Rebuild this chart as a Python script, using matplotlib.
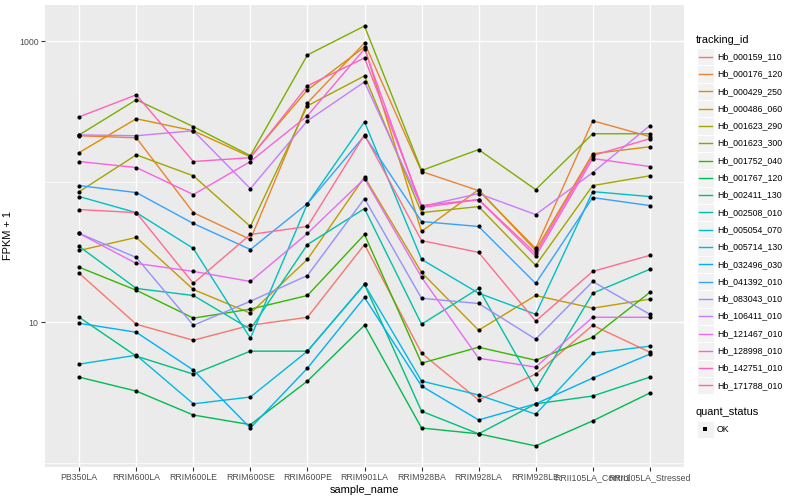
import matplotlib
matplotlib.use('Agg')
import matplotlib.pyplot as plt
from matplotlib.ticker import FixedLocator, NullFormatter
from matplotlib.patches import Rectangle

plt.rcParams['font.family'] = ['Liberation Sans', 'DejaVu Sans']

# --- data (FPKM + 1) ---
samples = ["PB350LA", "RRIM600LA", "RRIM600LE", "RRIM600SE", "RRIM600PE", "RRIM901LA",
           "RRIM928BA", "RRIM928LA", "RRIM928LE", "RRII105LA_Control", "RRII105LA_Stressed"]

tracking_ids = ["Hb_000159_110", "Hb_000176_120", "Hb_000429_250", "Hb_000486_060",
                "Hb_001623_290", "Hb_001623_300", "Hb_001752_040", "Hb_001767_120",
                "Hb_002411_130", "Hb_002508_010", "Hb_005054_070", "Hb_005714_130",
                "Hb_032496_030", "Hb_041392_010", "Hb_083043_010", "Hb_106411_010",
                "Hb_121467_010", "Hb_128998_010", "Hb_142751_010", "Hb_171788_010"]

# ggplot hue palette, 20 levels
colors = ["#F8766D", "#EA8331", "#D89000", "#C09B00", "#A3A500", "#7CAE00", "#39B600",
          "#00BB4E", "#00BF7D", "#00C1A3", "#00BFC4", "#00BAE0", "#00B0F6", "#35A2FF",
          "#9590FF", "#C77CFF", "#E76BF3", "#FA62DB", "#FF62BC", "#FF6C91"]

hb_000159_110 = [22.3, 9.68, 7.45, 9.52, 10.85, 35.7, 6.03, 2.80, 4.28, 9.52, 6.13]
hb_000176_120 = [212, 205, 60.2, 38.8, 363, 968, 118, 86.3, 33.5, 271, 209]
hb_000429_250 = [161, 280, 230, 150, 449, 907, 44.2, 87.8, 32.4, 158, 177]
hb_000486_060 = [32.4, 40.1, 17.1, 11.6, 28.0, 108, 22.6, 8.78, 15.5, 12.6, 14.6]
hb_001623_290 = [84.9, 155, 110, 48.0, 346, 565, 60.2, 66.5, 25.4, 93.7, 110]
hb_001623_300 = [215, 382, 246, 153, 796, 1278, 120, 169, 87.8, 219, 219]
hb_001752_040 = [24.6, 16.9, 10.7, 12.4, 15.5, 42.1, 5.12, 6.65, 5.37, 7.83, 16.3]
hb_001767_120 = [4.07, 3.24, 2.19, 1.87, 3.82, 9.52, 1.77, 1.61, 1.32, 1.99, 3.14]
hb_002411_130 = [10.85, 5.74, 4.28, 6.23, 6.23, 18.6, 2.33, 1.61, 2.63, 2.99, 4.07]
hb_002508_010 = [34.6, 17.4, 15.5, 8.92, 35.7, 64.3, 9.68, 17.4, 3.34, 16.1, 23.8]
hb_005054_070 = [78.3, 60.2, 33.5, 7.70, 69.8, 266, 28.0, 16.1, 11.4, 84.9, 78.3]
hb_005714_130 = [5.04, 5.83, 2.63, 2.94, 6.23, 18.6, 3.82, 3.04, 2.22, 6.03, 6.76]
hb_032496_030 = [9.84, 8.49, 4.57, 1.77, 4.72, 15.0, 3.52, 2.02, 2.63, 4.01, 5.93]
hb_041392_010 = [93.7, 83.6, 50.4, 32.9, 69.8, 212, 52.0, 48.0, 18.9, 77.0, 67.6]
hb_083043_010 = [42.8, 28.9, 9.52, 14.1, 21.5, 75.8, 14.8, 13.6, 7.58, 19.5, 11.4]
hb_106411_010 = [215, 212, 230, 89.2, 271, 512, 66.5, 82.2, 58.3, 116, 250]
hb_121467_010 = [42.8, 26.2, 23.0, 19.5, 42.8, 105, 20.9, 5.55, 4.80, 10.85, 10.85]
hb_128998_010 = [139, 126, 80.9, 139, 294, 878, 65.4, 74.5, 29.4, 146, 128]
hb_142751_010 = [289, 414, 139, 148, 480, 758, 67.6, 74.5, 30.9, 153, 202]
hb_171788_010 = [63.3, 60.2, 18.9, 42.1, 48.0, 215, 38.1, 31.4, 10.2, 23.0, 29.9]

series = [hb_000159_110, hb_000176_120, hb_000429_250, hb_000486_060, hb_001623_290,
          hb_001623_300, hb_001752_040, hb_001767_120, hb_002411_130, hb_002508_010,
          hb_005054_070, hb_005714_130, hb_032496_030, hb_041392_010, hb_083043_010,
          hb_106411_010, hb_121467_010, hb_128998_010, hb_142751_010, hb_171788_010]

# ggplot-ish sizes at 72 dpi -> matplotlib points at 100 dpi
K = 72 / 100
fig = plt.figure(figsize=(8, 5), dpi=100)
ax = fig.add_axes([45 / 800, 33 / 500, 639 / 800, 462 / 500])
ax.set_facecolor('#EBEBEB')
for s in ax.spines.values():
    s.set_visible(False)

x = list(range(len(samples)))
for vals, c in zip(series, colors):
    ax.plot(x, vals, color=c, lw=1.0, zorder=3)
for vals in series:
    ax.plot(x, vals, 'o', color='black', ms=3.0, mew=0, zorder=4)

ax.set_yscale('log')
ax.set_ylim(0.935, 1803)
ax.set_xlim(-0.6, len(samples) - 0.4)

ax.yaxis.set_major_locator(FixedLocator([10, 1000]))
ax.set_yticklabels(["10", "1000"])
ax.yaxis.set_minor_locator(FixedLocator([1, 100]))
ax.yaxis.set_minor_formatter(NullFormatter())
ax.set_xticks(x)
ax.set_xticklabels(samples)

ax.grid(True, which='major', color='white', lw=1.0, zorder=0)
ax.grid(True, which='minor', axis='y', color='white', lw=0.5, zorder=0)
ax.set_axisbelow(True)
ax.tick_params(which='major', length=2.75 * K * 1.3, width=0.8, color='#333333',
               labelsize=8.8 * K, labelcolor='#4D4D4D', pad=2)
ax.tick_params(which='minor', length=0)

ax.set_xlabel("sample_name", fontsize=11 * K, labelpad=2)
ax.set_ylabel("FPKM + 1", fontsize=11 * K, labelpad=4)

# --- legends, drawn in pixel coords ---
lg = fig.add_axes([0, 0, 1, 1])
lg.set_xlim(0, 800)
lg.set_ylim(500, 0)
lg.set_axis_off()
lg.patch.set_alpha(0)

lg.text(696, 40, "tracking_id", fontsize=11 * K, va='center', ha='left')
for i, (name, c) in enumerate(zip(tracking_ids, colors)):
    yc = 56.7 + 17.3 * i
    lg.add_patch(Rectangle((696.5, yc - 8.6), 17.3, 17.3, facecolor='#F2F2F2',
                           edgecolor='white', lw=0.7))
    lg.plot([698.5, 711.8], [yc, yc], color=c, lw=1.0)
    lg.text(717, yc, name, fontsize=8.8 * K, va='center', ha='left')

lg.text(696, 412, "quant_status", fontsize=11 * K, va='center', ha='left')
lg.add_patch(Rectangle((696.5, 429.3 - 8.6), 17.3, 17.3, facecolor='#F2F2F2',
                       edgecolor='white', lw=0.7))
lg.plot([705.1], [429.3], 's', color='black', ms=2.6, mew=0)
lg.text(717, 429.3, "OK", fontsize=8.8 * K, va='center', ha='left')

fig.savefig("out.png", dpi=100)
